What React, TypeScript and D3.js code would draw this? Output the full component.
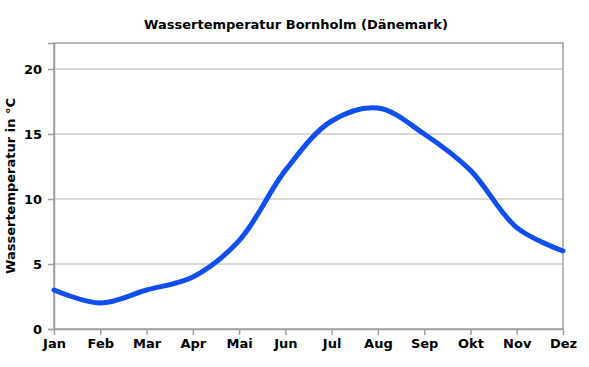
import React, { useEffect, useRef } from 'react';
import * as d3 from 'd3';

const months = ['Jan', 'Feb', 'Mar', 'Apr', 'Mai', 'Jun', 'Jul', 'Aug', 'Sep', 'Okt', 'Nov', 'Dez'];
const temps = [3, 2, 3, 4, 6.8, 12.2, 16, 17, 15, 12.2, 7.8, 6];
const yTicks = [0, 5, 10, 15, 20];

export default function App() {
  const ref = useRef<SVGSVGElement>(null);

  useEffect(() => {
    const width = 589, height = 367;
    const margin = { top: 43, right: 26, bottom: 38, left: 54 };
    const svg = d3.select(ref.current);
    svg.selectAll('*').remove();

    const x = d3.scalePoint<string>()
      .domain(months)
      .range([margin.left, width - margin.right]);

    const y = d3.scaleLinear()
      .domain([0, 22])
      .range([height - margin.bottom, margin.top]);

    const font = 'DejaVu Sans, Verdana, sans-serif';

    // grid
    svg.append('g')
      .selectAll('line').data(yTicks.filter(d => d > 0)).enter().append('line')
      .attr('x1', margin.left).attr('x2', width - margin.right)
      .attr('y1', d => y(d)).attr('y2', d => y(d))
      .attr('stroke', '#b3b3b3').attr('stroke-width', 1);

    // frame
    svg.append('rect')
      .attr('x', margin.left).attr('y', margin.top)
      .attr('width', width - margin.right - margin.left)
      .attr('height', height - margin.bottom - margin.top)
      .attr('fill', 'none').attr('stroke', '#a0a0a0').attr('stroke-width', 1.5);

    const yAxis = (g: any) => g
      .attr('transform', `translate(${margin.left},0)`)
      .call(d3.axisLeft(y).tickValues(yTicks).tickSize(6).tickPadding(6))
      .call((g: any) => g.select('.domain').attr('stroke', '#a0a0a0').attr('stroke-width', 1.5));

    const xAxis = (g: any) => g
      .attr('transform', `translate(0,${height - margin.bottom})`)
      .call(d3.axisBottom(x).tickSize(6).tickPadding(4).tickSizeOuter(0))
      .call((g: any) => g.select('.domain').attr('stroke', '#a0a0a0').attr('stroke-width', 1.5));

    svg.append('g').call(yAxis);
    svg.append('g').call(xAxis);

    svg.selectAll('.tick line').attr('stroke', '#a0a0a0').attr('stroke-width', 1.5);
    svg.selectAll('.tick text')
      .attr('font-family', font).attr('font-size', 13).attr('font-weight', 'bold').attr('fill', '#000');

    const line = d3.line<number>()
      .x((_, i) => x(months[i]) as number)
      .y(d => y(d))
      .curve(d3.curveCatmullRom.alpha(0.5));

    svg.append('path')
      .datum(temps)
      .attr('d', line)
      .attr('fill', 'none')
      .attr('stroke', '#0f4ff0')
      .attr('stroke-width', 5)
      .attr('stroke-linecap', 'round');

    svg.append('text')
      .attr('x', 296).attr('y', 29)
      .attr('text-anchor', 'middle')
      .attr('font-family', font).attr('font-size', 13).attr('font-weight', 'bold')
      .text('Wassertemperatur Bornholm (Dänemark)');

    svg.append('text')
      .attr('transform', `translate(15,${(margin.top + height - margin.bottom) / 2}) rotate(-90)`)
      .attr('text-anchor', 'middle')
      .attr('font-family', font).attr('font-size', 13).attr('font-weight', 'bold')
      .text('Wassertemperatur in °C');
  }, []);

  return (
    <svg ref={ref} width={589} height={367} style={{ position: 'absolute', left: 0, top: 0, background: '#fff' }} />
  );
}
